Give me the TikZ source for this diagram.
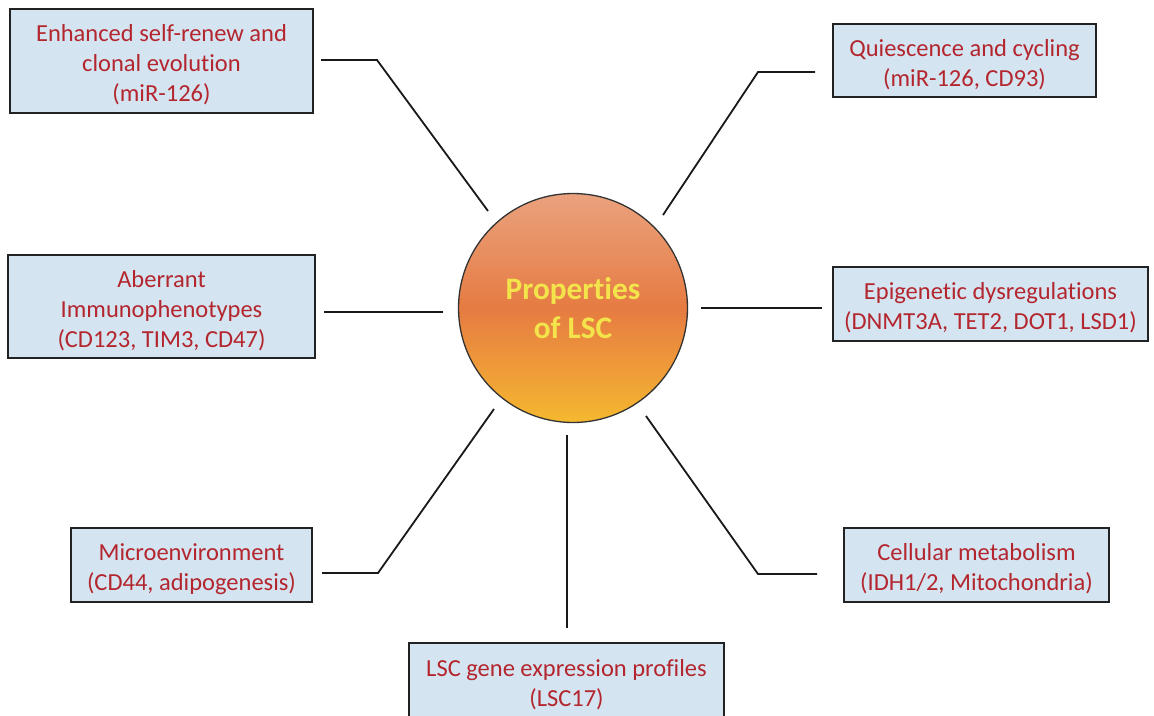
\documentclass[tikz,border=0pt]{standalone}
\usepackage{fontspec}
\setmainfont{Carlito}[Ligatures=NoCommon]
\definecolor{boxfill}{HTML}{D5E4F1}
\definecolor{boxline}{HTML}{222222}
\definecolor{txtred}{HTML}{B3262E}
\definecolor{titleyel}{HTML}{F2E44A}
\definecolor{ctop}{HTML}{EAA27E}
\definecolor{cmid}{HTML}{E67B42}
\definecolor{cbot}{HTML}{F5B82F}
\begin{document}
\begin{tikzpicture}[x=1pt,y=-1pt,
  box/.style={draw=boxline, line width=2pt, fill=boxfill, text=txtred,
    align=center, inner sep=0pt, anchor=center,
    font=\fontsize{24.5}{30}\selectfont},
  conn/.style={draw=black!90, line width=1.8pt, line join=miter}]
\useasboundingbox (0,0) rectangle (1154,715);
\clip (0,0) rectangle (1154,715);
\fill[white] (0,0) rectangle (1154,715);

% central circle
\node[circle, draw=black!80, line width=1.3pt, minimum size=229pt,
  top color=ctop, bottom color=cbot, middle color=cmid,
  text=titleyel, align=center, inner sep=0pt,
  font=\bfseries\fontsize{31.3}{39}\selectfont] (c) at (573,308)
  {Properties\\of LSC};

% boxes (text shifted slightly below the box centre, as in the reference)
\node[box, minimum width=303pt, minimum height=104pt] (b1) at (161.5,61)
  {\raisebox{0pt}[25pt][0pt]{}Enhanced self-renew and\\clonal evolution\\(miR-126)};
\node[box, minimum width=263pt, minimum height=73pt] (b2) at (964.5,60.5)
  {\raisebox{0pt}[25pt][0pt]{}Quiescence and cycling\\(miR-126, CD93)};
\node[box, minimum width=307pt, minimum height=103pt] (b3) at (161.5,306.5)
  {\raisebox{0pt}[25pt][0pt]{}Aberrant\\Immunophenotypes\\(CD123, TIM3, CD47)};
\node[box, minimum width=315pt, minimum height=74pt] (b4) at (990.5,304)
  {\raisebox{0pt}[25pt][0pt]{}Epigenetic dysregulations\\(DNMT3A, TET2, DOT1, LSD1)};
\node[box, minimum width=241pt, minimum height=74pt] (b5) at (191.5,565)
  {\raisebox{0pt}[25pt][0pt]{}Microenvironment\\(CD44, adipogenesis)};
\node[box, minimum width=265pt, minimum height=74pt] (b6) at (976.5,565)
  {\raisebox{0pt}[25pt][0pt]{}Cellular metabolism\\(IDH1/2, Mitochondria)};
\node[box, minimum width=315pt, minimum height=76pt] (b7) at (566.5,681)
  {\raisebox{0pt}[25pt][0pt]{}LSC gene expression profiles\\(LSC17)};

% connector end points
\coordinate (e1a) at (321,60);  \coordinate (e1b) at (377,60);  \coordinate (e1c) at (488,211);
\coordinate (e2a) at (815,72);  \coordinate (e2b) at (758,72);  \coordinate (e2c) at (663,215);
\coordinate (e3a) at (324,312); \coordinate (e3b) at (443,312);
\coordinate (e4a) at (822,308); \coordinate (e4b) at (701,308);
\coordinate (e5a) at (322,573); \coordinate (e5b) at (378,573); \coordinate (e5c) at (494,409);
\coordinate (e6a) at (817,574); \coordinate (e6b) at (758,574); \coordinate (e6c) at (646,416);
\coordinate (e7a) at (567,628); \coordinate (e7b) at (567,435);

\draw[conn] (e1a) -- (e1b) -- (e1c);
\draw[conn] (e2a) -- (e2b) -- (e2c);
\draw[conn] (e3a) -- (e3b);
\draw[conn] (e4a) -- (e4b);
\draw[conn] (e5a) -- (e5b) -- (e5c);
\draw[conn] (e6a) -- (e6b) -- (e6c);
\draw[conn] (e7a) -- (e7b);
\end{tikzpicture}
\end{document}
